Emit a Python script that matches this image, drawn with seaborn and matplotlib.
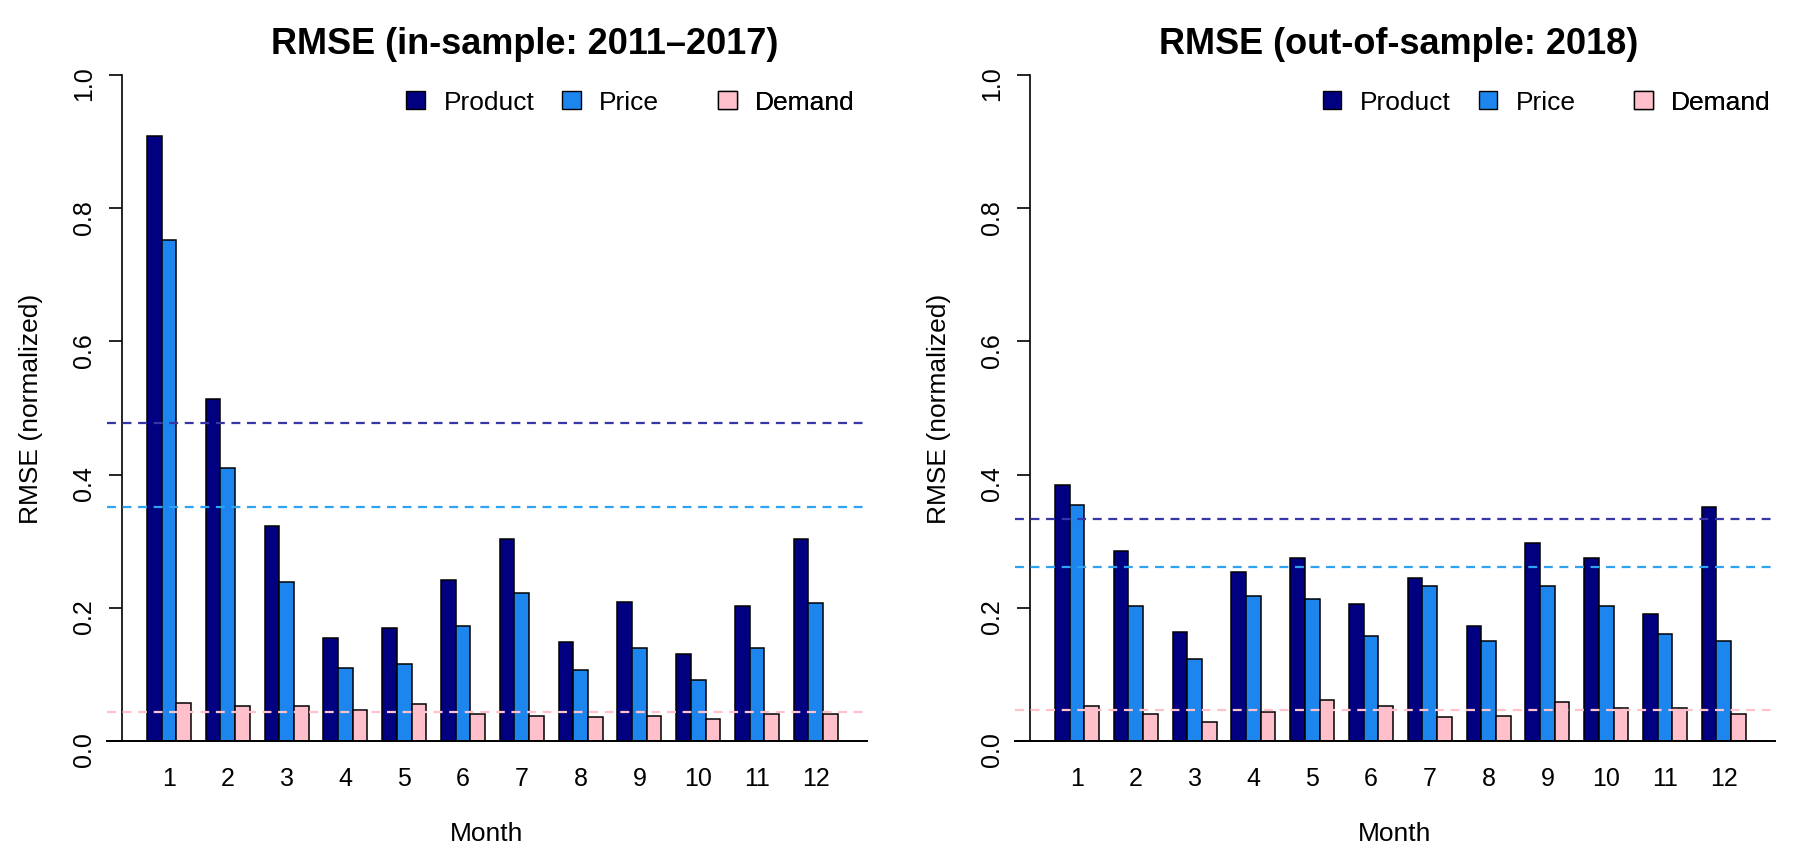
import numpy as np
import pandas as pd
import matplotlib
matplotlib.use("Agg")
import matplotlib.pyplot as plt
import seaborn as sns
from matplotlib.patches import Patch

# ---------------- data ----------------
months = [str(m) for m in range(1, 13)]
series = ["Product", "Price", "Demand"]

in_product = [0.909, 0.514, 0.323, 0.154, 0.170, 0.242, 0.304, 0.148, 0.208, 0.130, 0.203, 0.303]
in_price   = [0.752, 0.410, 0.239, 0.110, 0.115, 0.173, 0.222, 0.106, 0.140, 0.091, 0.140, 0.207]
in_demand  = [0.057, 0.052, 0.052, 0.047, 0.055, 0.041, 0.038, 0.036, 0.038, 0.033, 0.041, 0.041]
in_ref     = [0.478, 0.352, 0.043]   # dashed reference lines: Product, Price, Demand

out_product = [0.384, 0.286, 0.163, 0.254, 0.275, 0.205, 0.245, 0.172, 0.297, 0.275, 0.190, 0.351]
out_price   = [0.355, 0.202, 0.123, 0.218, 0.213, 0.158, 0.232, 0.150, 0.232, 0.202, 0.161, 0.150]
out_demand  = [0.052, 0.041, 0.028, 0.044, 0.062, 0.052, 0.036, 0.038, 0.058, 0.050, 0.050, 0.041]
out_ref     = [0.333, 0.261, 0.047]

yticks = [0.0, 0.2, 0.4, 0.6, 0.8, 1.0]
ytick_labels = ["0.0", "0.2", "0.4", "0.6", "0.8", "1.0"]

titles = ["RMSE (in-sample: 2011\u20132017)", "RMSE (out-of-sample: 2018)"]

# ---------------- style ----------------
bar_colors = {"Product": "#000080", "Price": "#1C86EE", "Demand": "#FFC0CB"}
line_colors = ["#3636A8", "#2EA3F2", "#FFC2CC"]

sns.set_theme(style="white")
plt.rcParams['font.family'] = ['Liberation Sans', 'DejaVu Sans']
plt.rcParams['text.color'] = 'black'
plt.rcParams['axes.labelcolor'] = 'black'
plt.rcParams['xtick.color'] = 'black'
plt.rcParams['ytick.color'] = 'black'

W, H = 1793, 853
fig = plt.figure(figsize=(W / 100, H / 100), dpi=100)


def px_axes(x0, x1, ytop, ybot):
    return fig.add_axes([x0 / W, 1 - ybot / H, (x1 - x0) / W, (ybot - ytop) / H])


axL = px_axes(107, 867, 76, 742)
axR = px_axes(1015, 1775, 76, 742)


def panel(ax, title, prod, price, dem, refs, title_x, leg_xs):
    df = pd.DataFrame({
        "Month": months * 3,
        "Series": np.repeat(series, len(months)),
        "RMSE": prod + price + dem,
    })
    sns.barplot(data=df, x="Month", y="RMSE", hue="Series", order=months,
                hue_order=series, palette=bar_colors, width=0.75, saturation=1,
                edgecolor="black", linewidth=1.1, errorbar=None, legend=False,
                ax=ax, zorder=2)
    for v, c in zip(refs, line_colors):
        ax.axhline(v, color=c, ls=(0, (4, 3)), lw=1.6, zorder=3)

    ax.set_xlim(-1.055, 11.87)
    ax.set_ylim(0, 1.0)
    ax.set_yticks(yticks)
    ax.set_yticklabels(ytick_labels)
    ax.tick_params(axis="y", length=9.5, width=1.2, pad=9, labelsize=18,
                   direction="out", left=True, labelrotation=90)
    for lab in ax.get_yticklabels():
        lab.set_va("center")
    ax.tick_params(axis="x", length=0, pad=18, labelsize=18)

    for s in ["top", "right"]:
        ax.spines[s].set_visible(False)
    ax.spines["left"].set_position(("data", -0.80))
    ax.spines["left"].set_linewidth(1.2)
    ax.spines["left"].set_color("black")
    ax.spines["bottom"].set_linewidth(1.4)
    ax.spines["bottom"].set_color("black")

    ax.set_xlabel("Month", fontsize=19)
    ax.xaxis.set_label_coords(0.5, -0.138)
    ax.xaxis.label.set_va("center")
    ax.set_ylabel("RMSE (normalized)", fontsize=19)
    ax.yaxis.set_label_coords(-0.100, 0.5)
    ax.yaxis.label.set_va("center")

    ax.set_title(title, fontsize=26, fontweight="bold", pad=16, x=title_x)

    for x, s in zip(leg_xs, series):
        leg = ax.legend(handles=[Patch(facecolor=bar_colors[s], edgecolor="black", linewidth=1.0)],
                        labels=[s], loc="center left", bbox_to_anchor=(x, 0.959),
                        frameon=False, borderpad=0, borderaxespad=0,
                        handlelength=0.7, handleheight=0.7, handletextpad=0.7,
                        fontsize=19)
        ax.add_artist(leg)


panel(axL, titles[0], in_product, in_price, in_demand, in_ref,
      0.55, [0.394, 0.599, 0.804])
panel(axR, titles[1], out_product, out_price, out_demand, out_ref,
      0.505, [0.405, 0.610, 0.815])

fig.savefig("out.png", dpi=100, facecolor="white")
